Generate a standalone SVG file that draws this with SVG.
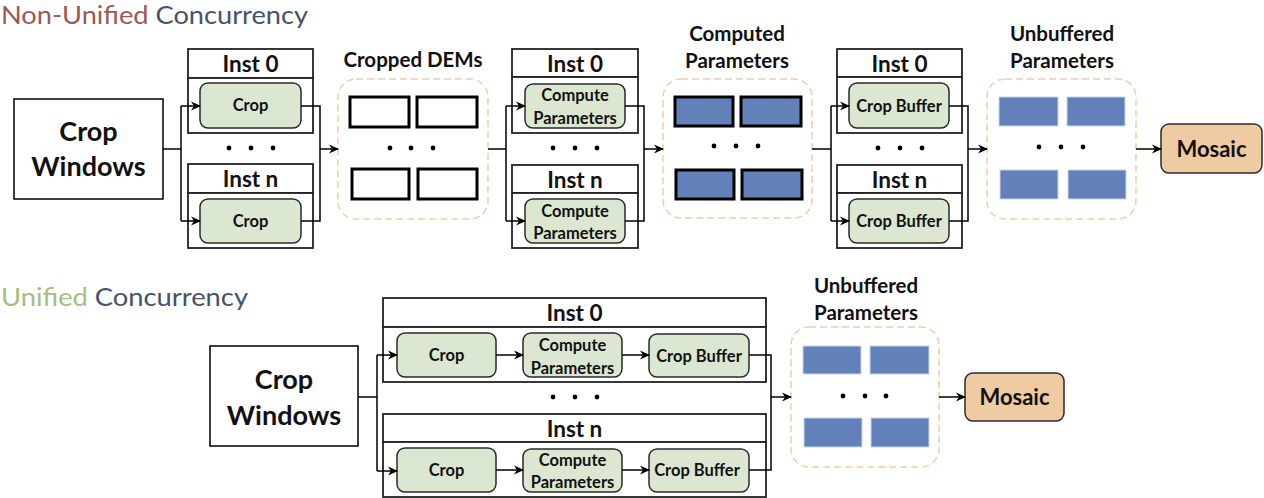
<svg xmlns="http://www.w3.org/2000/svg" width="1264" height="498" viewBox="0 0 1264 498">
<defs>
<marker id="arr" viewBox="0 0 10 10" refX="9" refY="5" markerWidth="10" markerHeight="10" markerUnits="userSpaceOnUse" orient="auto">
<path d="M0,0.5 L10,5 L0,9.5 L3,5 z" fill="#000"/>
</marker>
<style>
.t{font-family:Lato,"Open Sans","Liberation Sans",sans-serif;fill:#111;text-anchor:middle;font-weight:bold}
.title{font-family:Lato,"Open Sans","Liberation Sans",sans-serif;font-size:24.5px}
.big{font-size:27px}
.inst{font-size:22.5px}
.lbl{font-size:20.5px}
.sm{font-size:16.5px}
.xs{font-size:16.5px}
.mo{font-size:22px}
.box{fill:#fff;stroke:#000;stroke-width:1.5}
.ib{fill:#fff;stroke:#222;stroke-width:1.8}
.op{fill:#DCE7D2;stroke:#2a2a2a;stroke-width:1.5}
.ds{fill:#fff;stroke:#F4CDA8;stroke-width:1.5;stroke-dasharray:7,4}
.dem{fill:#fff;stroke:#000;stroke-width:3}
.cp{fill:#6281B8;stroke:#000;stroke-width:3}
.ub{fill:#6281B8;stroke:#C9D6EA;stroke-width:1}
.mos{fill:#EECBA2;stroke:#2a2a2a;stroke-width:1.5}
.dot{fill:#000}
.ln{fill:none;stroke:#000;stroke-width:1.5}
.ar{fill:none;stroke:#000;stroke-width:1.5;marker-end:url(#arr)}
</style>
</defs>
<rect width="1264" height="498" fill="#fff"/>

<g id="title-top">
<text class="title" x="1" y="24" textLength="307" lengthAdjust="spacingAndGlyphs"><tspan fill="#9E5853">Non-Unified</tspan><tspan fill="#44546A"> Concurrency</tspan></text>
</g>
<g id="title-bottom">
<text class="title" x="1" y="306" textLength="247" lengthAdjust="spacingAndGlyphs"><tspan fill="#A4BF7E">Unified</tspan><tspan fill="#44546A"> Concurrency</tspan></text>
</g>

<!-- Top row -->
<g id="crop-windows-top">
<rect class="box" x="14" y="99" width="149" height="100"/>
<text class="t big" x="88.5" y="141">Crop</text>
<text class="t big" x="88.5" y="176">Windows</text>
</g>

<g id="crop-inst0-top">
<rect class="ib" x="188" y="49" width="125" height="29"/>
<rect class="ib" x="188" y="78" width="125" height="55"/>
<text class="t inst" x="250.5" y="72">Inst 0</text>
<rect class="op" x="200" y="83" width="101" height="45" rx="8"/>
<text class="t sm" x="250.5" y="111">Crop</text>
</g>
<g id="crop-instn-top">
<rect class="ib" x="188" y="164" width="125" height="29"/>
<rect class="ib" x="188" y="193" width="125" height="55"/>
<text class="t inst" x="250.5" y="187">Inst n</text>
<rect class="op" x="200" y="199" width="101" height="44" rx="8"/>
<text class="t sm" x="250.5" y="227">Crop</text>
</g>
<g id="dots-crop-top"><circle class="dot" cx="229" cy="148" r="2.4"/><circle class="dot" cx="251" cy="148" r="2.4"/><circle class="dot" cx="273" cy="148" r="2.4"/></g>

<g id="cropped-dems">
<text class="t lbl" x="413" y="67">Cropped DEMs</text>
<rect class="ds" x="338" y="79" width="150" height="140" rx="18"/>
<rect class="dem" x="350" y="97" width="59" height="30"/>
<rect class="dem" x="417" y="97" width="60" height="30"/>
<rect class="dem" x="352" y="169" width="57" height="30"/>
<rect class="dem" x="418" y="169" width="59" height="30"/>
<circle class="dot" cx="390" cy="148" r="2.4"/><circle class="dot" cx="411" cy="148" r="2.4"/><circle class="dot" cx="433" cy="148" r="2.4"/>
</g>

<g id="compute-inst0-top">
<rect class="ib" x="512" y="49" width="126" height="28"/>
<rect class="ib" x="512" y="77" width="126" height="56"/>
<text class="t inst" x="575" y="72">Inst 0</text>
<rect class="op" x="525" y="84" width="100" height="44" rx="8"/>
<text class="t xs" x="575" y="101">Compute</text>
<text class="t xs" x="575" y="124">Parameters</text>
</g>
<g id="compute-instn-top">
<rect class="ib" x="512" y="165" width="126" height="28"/>
<rect class="ib" x="512" y="193" width="126" height="55"/>
<text class="t inst" x="575" y="188">Inst n</text>
<rect class="op" x="525" y="199" width="100" height="44" rx="8"/>
<text class="t xs" x="575" y="217">Compute</text>
<text class="t xs" x="575" y="239">Parameters</text>
</g>
<g id="dots-compute-top"><circle class="dot" cx="553" cy="148" r="2.4"/><circle class="dot" cx="575" cy="148" r="2.4"/><circle class="dot" cx="597" cy="148" r="2.4"/></g>

<g id="computed-parameters">
<text class="t lbl" x="737" y="41">Computed</text>
<text class="t lbl" x="737" y="68">Parameters</text>
<rect class="ds" x="663" y="79" width="149" height="139" rx="18"/>
<rect class="cp" x="675" y="97" width="58" height="29"/>
<rect class="cp" x="741" y="97" width="60" height="29"/>
<rect class="cp" x="676" y="170" width="58" height="29"/>
<rect class="cp" x="742" y="170" width="60" height="29"/>
<circle class="dot" cx="714" cy="146" r="2.4"/><circle class="dot" cx="736" cy="146" r="2.4"/><circle class="dot" cx="758" cy="146" r="2.4"/>
</g>

<g id="buffer-inst0-top">
<rect class="ib" x="837" y="49" width="125" height="28"/>
<rect class="ib" x="837" y="77" width="125" height="56"/>
<text class="t inst" x="899.5" y="72">Inst 0</text>
<rect class="op" x="849" y="83" width="100" height="45" rx="8"/>
<text class="t sm" x="899" y="112">Crop Buffer</text>
</g>
<g id="buffer-instn-top">
<rect class="ib" x="837" y="165" width="125" height="28"/>
<rect class="ib" x="837" y="193" width="125" height="55"/>
<text class="t inst" x="899.5" y="188">Inst n</text>
<rect class="op" x="849" y="199" width="100" height="44" rx="8"/>
<text class="t sm" x="899" y="227">Crop Buffer</text>
</g>
<g id="dots-buffer-top"><circle class="dot" cx="878" cy="148" r="2.4"/><circle class="dot" cx="900" cy="148" r="2.4"/><circle class="dot" cx="922" cy="148" r="2.4"/></g>

<g id="unbuffered-top">
<text class="t lbl" x="1062" y="41">Unbuffered</text>
<text class="t lbl" x="1062" y="68">Parameters</text>
<rect class="ds" x="987" y="79" width="149" height="140" rx="18"/>
<rect class="ub" x="999" y="97" width="59" height="29"/>
<rect class="ub" x="1067" y="97" width="58" height="29"/>
<rect class="ub" x="1000" y="170" width="58" height="29"/>
<rect class="ub" x="1068" y="170" width="58" height="29"/>
<circle class="dot" cx="1039" cy="147" r="2.4"/><circle class="dot" cx="1061" cy="147" r="2.4"/><circle class="dot" cx="1083" cy="147" r="2.4"/>
</g>

<g id="mosaic-top">
<rect class="mos" x="1161" y="124" width="101" height="49" rx="8"/>
<text class="t mo" x="1211.5" y="157">Mosaic</text>
</g>

<!-- Bottom row -->
<g id="crop-windows-bottom">
<rect class="box" x="210" y="346" width="148" height="100"/>
<text class="t big" x="284" y="389">Crop</text>
<text class="t big" x="284" y="425">Windows</text>
</g>

<g id="inst0-bottom">
<rect class="ib" x="383" y="298" width="383" height="29"/>
<rect class="ib" x="383" y="327" width="383" height="55"/>
<text class="t inst" x="574.5" y="321">Inst 0</text>
<rect class="op" x="397" y="333" width="99" height="44" rx="8"/>
<text class="t sm" x="446.5" y="361">Crop</text>
<rect class="op" x="523" y="333" width="99" height="44" rx="8"/>
<text class="t xs" x="572.5" y="351">Compute</text>
<text class="t xs" x="572.5" y="374">Parameters</text>
<rect class="op" x="649" y="334" width="100" height="43" rx="8"/>
<text class="t sm" x="699" y="362">Crop Buffer</text>
</g>
<g id="instn-bottom">
<rect class="ib" x="383" y="414" width="383" height="28"/>
<rect class="ib" x="383" y="442" width="383" height="55"/>
<text class="t inst" x="574.5" y="437">Inst n</text>
<rect class="op" x="397" y="448" width="99" height="44" rx="8"/>
<text class="t sm" x="446.5" y="476">Crop</text>
<rect class="op" x="523" y="449" width="99" height="43" rx="8"/>
<text class="t xs" x="572.5" y="466">Compute</text>
<text class="t xs" x="572.5" y="488">Parameters</text>
<rect class="op" x="649" y="449" width="100" height="43" rx="8"/>
<text class="t sm" x="697" y="476">Crop Buffer</text>
</g>
<g id="dots-bottom"><circle class="dot" cx="553" cy="397" r="2.4"/><circle class="dot" cx="575" cy="397" r="2.4"/><circle class="dot" cx="597" cy="397" r="2.4"/></g>

<g id="unbuffered-bottom">
<text class="t lbl" x="866" y="293">Unbuffered</text>
<text class="t lbl" x="866" y="320">Parameters</text>
<rect class="ds" x="791" y="327" width="148" height="140" rx="18"/>
<rect class="ub" x="803" y="346" width="58" height="28"/>
<rect class="ub" x="870" y="346" width="59" height="28"/>
<rect class="ub" x="804" y="418" width="58" height="29"/>
<rect class="ub" x="871" y="418" width="58" height="29"/>
<circle class="dot" cx="843" cy="396" r="2.4"/><circle class="dot" cx="865" cy="396" r="2.4"/><circle class="dot" cx="886" cy="396" r="2.4"/>
</g>

<g id="mosaic-bottom">
<rect class="mos" x="965" y="373" width="99" height="48" rx="8"/>
<text class="t mo" x="1014.5" y="405">Mosaic</text>
</g>

<g id="connectors">
<path class="ln" d="M163,149 H181 M181,106 V221"/>
<path class="ar" d="M181,106 H200"/>
<path class="ar" d="M181,221 H200"/>
<path class="ln" d="M301,106 H320 V221 H301"/>
<path class="ar" d="M320,149 H338"/>
<path class="ln" d="M488,149 H506 M506,106 V221"/>
<path class="ar" d="M506,106 H525"/>
<path class="ar" d="M506,221 H525"/>
<path class="ln" d="M625,106 H644 V221 H625"/>
<path class="ar" d="M644,149 H663"/>
<path class="ln" d="M812,149 H831 M831,106 V221"/>
<path class="ar" d="M831,106 H849"/>
<path class="ar" d="M831,221 H849"/>
<path class="ln" d="M949,106 H968 V221 H949"/>
<path class="ar" d="M968,149 H987"/>
<path class="ar" d="M1136,149 H1161"/>

<path class="ln" d="M358,397 H377 M377,355 V471"/>
<path class="ar" d="M377,355 H397"/>
<path class="ar" d="M377,471 H397"/>
<path class="ar" d="M496,355 H523"/>
<path class="ar" d="M622,355 H649"/>
<path class="ar" d="M496,470 H523"/>
<path class="ar" d="M622,470 H649"/>
<path class="ln" d="M749,355 H771 V470 H749"/>
<path class="ar" d="M771,397 H791"/>
<path class="ar" d="M939,397 H965"/>
</g>
</svg>
